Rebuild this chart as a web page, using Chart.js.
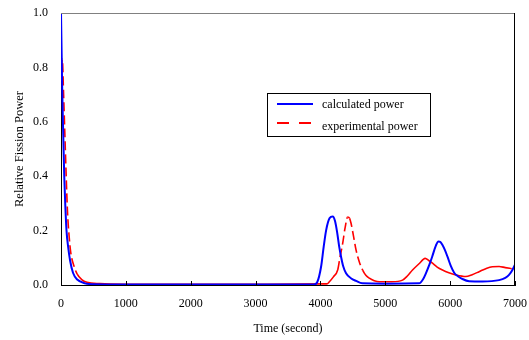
<!DOCTYPE html>
<html>
<head>
<meta charset="utf-8">
<script src="https://cdn.jsdelivr.net/npm/chart.js@4"></script>
<style>
  html, body { margin: 0; padding: 0; background: #fff; }
  #wrap { width: 529px; height: 340px; }
</style>
</head>
<body>
<div id="wrap"><canvas id="fission" width="529" height="340"></canvas></div>
<script>
// Data
const calcTime  = [0, 10, 20, 35, 50, 65, 85, 110, 140, 185, 250, 370, 500, 1000, 2000, 3000, 3900, 3950, 4010, 4050, 4087, 4140, 4190, 4225, 4260, 4290, 4318, 4350, 4395, 4470, 4549, 4646, 5000, 5523, 5580, 5626, 5680, 5723, 5780, 5820, 5850, 5882, 5920, 5959, 6010, 6062, 6120, 6190, 6292, 6500, 6754, 6850, 6908, 6960, 7000];
const calcPower = [1.0, 0.85, 0.7, 0.55, 0.4, 0.3, 0.2, 0.14, 0.09, 0.045, 0.02, 0.006, 0.003, 0.002, 0.002, 0.002, 0.002, 0.01, 0.067, 0.14, 0.2, 0.245, 0.252, 0.235, 0.19, 0.14, 0.104, 0.07, 0.043, 0.025, 0.015, 0.006, 0.005, 0.006, 0.02, 0.043, 0.075, 0.104, 0.145, 0.16, 0.158, 0.147, 0.128, 0.104, 0.07, 0.045, 0.032, 0.022, 0.014, 0.013, 0.018, 0.026, 0.037, 0.055, 0.075];

const expTime  = [0, 20, 40, 60, 80, 100, 125, 150, 200, 250, 320, 400, 600, 1000, 2000, 3000, 4100, 4138, 4200, 4266, 4300, 4343, 4380, 4420, 4450, 4472, 4510, 4549, 4600, 4651, 4700, 4754, 4830, 4908, 5100, 5266, 5340, 5420, 5520, 5615, 5670, 5728, 5800, 5882, 5980, 6087, 6241, 6340, 6446, 6550, 6651, 6754, 6850, 6950];
const expPower = [0.75, 0.83, 0.7, 0.55, 0.4, 0.27, 0.18, 0.12, 0.07, 0.04, 0.02, 0.01, 0.005, 0.003, 0.003, 0.003, 0.004, 0.012, 0.03, 0.055, 0.1, 0.153, 0.21, 0.25, 0.245, 0.227, 0.18, 0.129, 0.085, 0.055, 0.036, 0.025, 0.016, 0.012, 0.012, 0.018, 0.033, 0.055, 0.078, 0.098, 0.09, 0.08, 0.066, 0.055, 0.045, 0.037, 0.031, 0.038, 0.049, 0.06, 0.067, 0.068, 0.064, 0.06];

const xTicks = [0, 1000, 2000, 3000, 4000, 5000, 6000, 7000];
const yTicks = [0, 0.2, 0.4, 0.6, 0.8, 1.0];
const seriesNames = ["calculated power", "experimental power"];

const toPoints = (xs, ys) => xs.map((x, i) => ({ x: x, y: ys[i] }));
const serif = "'Liberation Serif', 'DejaVu Serif', serif";

// frame, inward ticks and the boxed legend
const decor = {
  id: "decor",
  afterDatasetsDraw(chart) {
    const { ctx, chartArea: a, scales } = chart;
    ctx.save();
    ctx.lineWidth = 1;
    ctx.strokeStyle = "#808080";
    ctx.beginPath();
    ctx.moveTo(a.left, a.top + 0.5);
    ctx.lineTo(a.right, a.top + 0.5);
    ctx.stroke();
    ctx.strokeStyle = "#000";
    ctx.beginPath();
    ctx.moveTo(a.right - 0.5, a.top);
    ctx.lineTo(a.right - 0.5, a.bottom);
    ctx.stroke();

    // small inward ticks on the x axis
    ctx.beginPath();
    xTicks.forEach(v => {
      const px = Math.round(scales.x.getPixelForValue(v)) + 0.5;
      ctx.moveTo(px, a.bottom);
      ctx.lineTo(px, a.bottom - 4);
    });
    ctx.stroke();

    // legend
    const bx = 267, by = 93, bw = 163, bh = 43;
    ctx.fillStyle = "#fff";
    ctx.fillRect(bx, by, bw, bh);
    ctx.strokeStyle = "#000";
    ctx.strokeRect(bx + 0.5, by + 0.5, bw, bh);
    const ds = chart.data.datasets;
    const rows = [104, 123];
    rows.forEach((y, i) => {
      ctx.strokeStyle = ds[i].borderColor;
      ctx.lineWidth = 2;
      ctx.setLineDash(i === 1 ? [12, 10] : []);
      ctx.beginPath();
      ctx.moveTo(277, y);
      ctx.lineTo(313, y);
      ctx.stroke();
    });
    ctx.setLineDash([]);
    ctx.fillStyle = "#000";
    ctx.font = "12px " + serif;
    ctx.textBaseline = "middle";
    ctx.fillText(seriesNames[0], 322, 105);
    ctx.fillText(seriesNames[1], 322, 127);
    ctx.restore();
  }
};

// red curve shows its dashes only on the steep parts
const steepDash = c => {
  const dy = Math.abs(c.p1.y - c.p0.y);
  const dx = Math.abs(c.p1.x - c.p0.x) || 0.1;
  return dy / dx > 2 ? [9, 4] : undefined;
};

// hidden tick marks used as label spacing, so the tick padding stays small
const spacerGrid = len => ({
  display: true,
  drawOnChartArea: false,
  drawTicks: true,
  tickLength: len,
  tickColor: "rgba(0,0,0,0)"
});

new Chart(document.getElementById("fission"), {
  type: "line",
  data: {
    datasets: [{
      label: seriesNames[0],
      data: toPoints(calcTime, calcPower),
      borderColor: "#0000ff",
      borderWidth: 2,
      pointRadius: 0,
      cubicInterpolationMode: "monotone"
    }, {
      label: seriesNames[1],
      data: toPoints(expTime, expPower),
      borderColor: "#ff0000",
      borderWidth: 1.6,
      pointRadius: 0,
      cubicInterpolationMode: "monotone",
      segment: { borderDash: steepDash }
    }]
  },
  options: {
    responsive: false,
    animation: false,
    layout: { padding: { top: 13, right: 13, left: 0, bottom: 0 } },
    plugins: {
      legend: { display: false },
      tooltip: { enabled: false }
    },
    scales: {
      x: {
        type: "linear",
        min: 0,
        max: 7000,
        afterBuildTicks: s => { s.ticks = xTicks.map(v => ({ value: v })); },
        afterFit: s => { s.height = 55; },
        grid: spacerGrid(10),
        border: { display: true, color: "#000", width: 1 },
        ticks: {
          color: "#000",
          padding: 2,
          maxRotation: 0,
          font: { family: serif, size: 12 },
          callback: v => String(v)
        },
        title: {
          display: true,
          text: "Time (second)",
          color: "#000",
          font: { family: serif, size: 12 },
          padding: { top: 11 }
        }
      },
      y: {
        min: 0,
        max: 1,
        afterBuildTicks: s => { s.ticks = yTicks.map(v => ({ value: v })); },
        afterFit: s => { s.width = 61; },
        grid: spacerGrid(11),
        border: { display: true, color: "#000", width: 1 },
        ticks: {
          color: "#000",
          padding: 2,
          font: { family: serif, size: 12 },
          callback: v => Number(v).toFixed(1)
        },
        title: {
          display: true,
          text: "Relative Fission Power",
          color: "#000",
          font: { family: serif, size: 12.5 },
          padding: { top: 12, bottom: 0 }
        }
      }
    }
  },
  plugins: [decor]
});
</script>
</body>
</html>
